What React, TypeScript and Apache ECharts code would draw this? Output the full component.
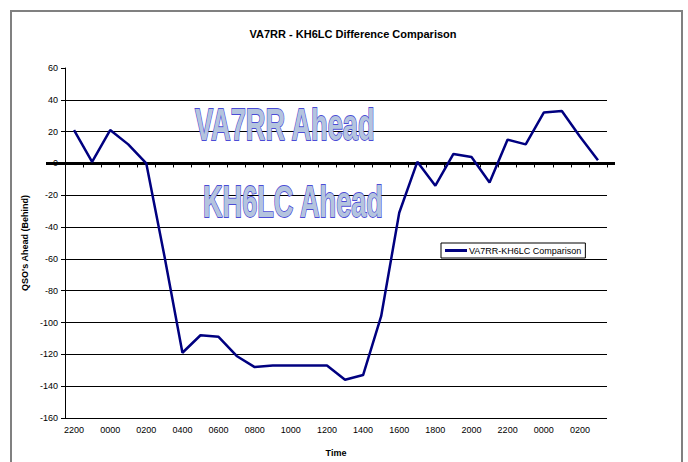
import React, { useEffect, useRef } from "react";
import * as echarts from "echarts";

const hours = [
  "2200", "2300", "0000", "0100", "0200", "0300", "0400", "0500", "0600", "0700",
  "0800", "0900", "1000", "1100", "1200", "1300", "1400", "1500", "1600", "1700",
  "1800", "1900", "2000", "2100", "2200", "2300", "0000", "0100", "0200", "0300",
];
const difference = [
  21, 1, 21, 12, 0, -58, -119, -108, -109, -121,
  -128, -127, -127, -127, -127, -136, -133, -96, -31, 1,
  -14, 6, 4, -12, 15, 12, 32, 33, 17, 2,
];
const seriesName = "VA7RR-KH6LC Comparison";
const yTicks = { min: -160, max: 60, interval: 20 };
const zeroLevel = 0;

const FONT = '"Liberation Sans", Arial, sans-serif';

export default function App() {
  const ref = useRef<HTMLDivElement>(null);
  useEffect(() => {
    if (!ref.current) return;
    const chart = echarts.init(ref.current, null, { renderer: "svg" });
    const splitColors: string[] = [];
    for (let v = yTicks.min; v <= yTicks.max; v += yTicks.interval) {
      splitColors.push(v === yTicks.max ? "rgba(0,0,0,0)" : "#000");
    }
    const wordArt = (text: string, x: number, y: number) => ({
      type: "text",
      x,
      y,
      scaleX: 0.617,
      z: 10,
      style: {
        text,
        font: `bold 44px ${FONT}`,
        fill: "#b4c4de",
        stroke: "#4c4cd6",
        lineWidth: 1.8,
        verticalAlign: "middle",
        align: "left",
        shadowColor: "rgba(110,110,215,0.75)",
        shadowOffsetX: 2,
        shadowOffsetY: 2,
        shadowBlur: 0,
      },
    });
    const baseGraphics: any[] = [
      {
        type: "rect",
        shape: { x: 11, y: 11, width: 671, height: 470 },
        style: { fill: "none", stroke: "#808080", lineWidth: 2 },
        z: -1,
      },
      wordArt("VA7RR Ahead", 195, 125),
      wordArt("KH6LC Ahead", 203, 202),
    ];
    chart.setOption({
      animation: false,
      backgroundColor: "#fff",
      textStyle: { fontFamily: FONT },
      title: {
        text: "VA7RR - KH6LC Difference Comparison",
        left: 348,
        textAlign: "center",
        top: 23,
        textStyle: { fontSize: 11, fontWeight: "bold", color: "#000", fontFamily: FONT },
      },
      legend: {
        left: 441,
        top: 243,
        orient: "vertical",
        data: [{ name: seriesName, icon: "rect" }],
        itemWidth: 22,
        itemHeight: 3,
        itemGap: 2,
        padding: [3, 4, 3, 4],
        borderColor: "#000",
        borderWidth: 1,
        borderRadius: 0,
        backgroundColor: "#fff",
        textStyle: { fontSize: 9, color: "#000", fontFamily: FONT, padding: [0, 0, 0, -3] },
      },
      grid: { left: 65, top: 68, width: 542, height: 352, containLabel: false },
      xAxis: {
        type: "category",
        data: hours,
        boundaryGap: true,
        name: "Time",
        nameLocation: "middle",
        nameGap: 30,
        nameTextStyle: { fontSize: 9, fontWeight: "bold", color: "#000" },
        axisLine: { lineStyle: { color: "#000", width: 1 } },
        axisTick: { show: true, interval: 0, length: 4, lineStyle: { color: "#000" } },
        axisLabel: { interval: 1, fontSize: 9, color: "#000", margin: 7 },
        splitLine: { show: false },
      },
      yAxis: {
        type: "value",
        min: yTicks.min,
        max: yTicks.max,
        interval: yTicks.interval,
        name: "QSO's Ahead (Behind)",
        nameLocation: "middle",
        nameGap: 31,
        nameTextStyle: { fontSize: 9, fontWeight: "bold", color: "#000" },
        axisLine: { show: true, lineStyle: { color: "#000", width: 1 } },
        axisTick: { show: true, length: 4, lineStyle: { color: "#000" } },
        axisLabel: { fontSize: 9, color: "#000", margin: 7 },
        splitLine: { show: true, lineStyle: { color: splitColors, width: 1 } },
      },
      series: [
        {
          name: seriesName,
          type: "line",
          data: difference,
          showSymbol: false,
          symbol: "none",
          z: 3,
          lineStyle: { color: "#000080", width: 2.5 },
          itemStyle: { color: "#000080" },
        },
      ],
      graphic: baseGraphics,
    });
    const zeroY = chart.convertToPixel({ yAxisIndex: 0 }, zeroLevel) as number;
    chart.setOption({
      graphic: [
        ...baseGraphics,
        {
          type: "line",
          shape: { x1: 46, y1: zeroY, x2: 615, y2: zeroY },
          style: { stroke: "#000", lineWidth: 3 },
          z: 1,
        },
      ],
    });
    return () => chart.dispose();
  }, []);
  return (
    <div
      ref={ref}
      style={{ position: "fixed", left: 0, top: 0, width: 688, height: 462 }}
    />
  );
}
